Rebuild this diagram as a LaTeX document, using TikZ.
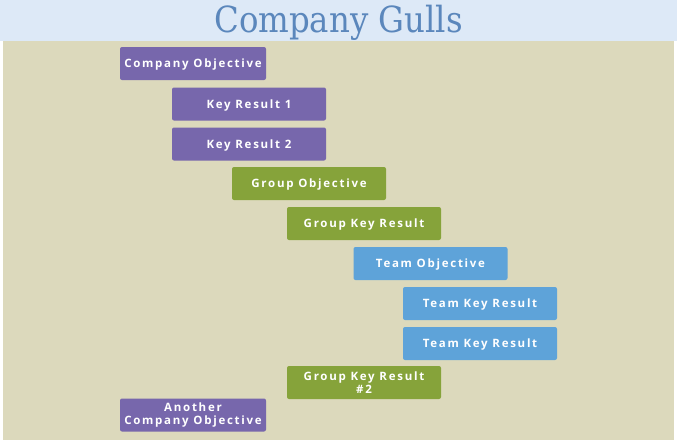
\documentclass[tikz,border=0pt]{standalone}
\usepackage{fontspec}
\newfontfamily\boxfont[LetterSpace=15]{Open Sans Bold}
\newfontfamily\titlefont{DejaVu Serif Condensed}
\definecolor{titlebg}{HTML}{DDE9F7}
\definecolor{panel}{HTML}{DCD9BC}
\definecolor{okrpurple}{HTML}{7767AC}
\definecolor{okrgreen}{HTML}{86A33A}
\definecolor{okrblue}{HTML}{5EA3D9}
\definecolor{titleblue}{HTML}{5B87BC}
\tikzset{
  okrbox/.style={rounded corners=2pt, minimum height=33pt, inner sep=0pt, text=white,
    font=\boxfont\fontsize{11.5}{13}\selectfont, align=center},
  oneline/.style={text height=9pt, text depth=1pt},
  wide/.style={okrbox, minimum width=146pt},
  wider/.style={okrbox, minimum width=154pt},
}
\begin{document}
\begin{tikzpicture}[x=1pt,y=-1pt]
\useasboundingbox (0,0) rectangle (677,440);
\fill[titlebg] (0,0) rectangle (677,41);
\fill[panel] (3,41) rectangle (674,440);
\node[text=titleblue, font=\titlefont\fontsize{36}{40}\selectfont, anchor=base] (title) at (338.5,32) {Company Gulls};
\node[wide, oneline, fill=okrpurple] (co) at (193,63.5) {Company Objective};
\node[wider, oneline, fill=okrpurple] (kr1) at (249,104) {Key Result 1};
\node[wider, oneline, fill=okrpurple] (kr2) at (249,144) {Key Result 2};
\node[wider, oneline, fill=okrgreen] (go) at (309,183.5) {Group Objective};
\node[wider, oneline, fill=okrgreen] (gkr) at (364,223.5) {Group Key Result};
\node[wider, oneline, fill=okrblue] (to) at (430.5,263.5) {Team Objective};
\node[wider, oneline, fill=okrblue] (tkr1) at (480,303.5) {Team Key Result};
\node[wider, oneline, fill=okrblue] (tkr2) at (480,343.5) {Team Key Result};
\node[wider, fill=okrgreen] (gkr2) at (364,382.5) {Group Key Result\\\#2};
\node[wide, fill=okrpurple] (aco) at (193,415) {Another\\Company Objective};
\end{tikzpicture}
\end{document}
